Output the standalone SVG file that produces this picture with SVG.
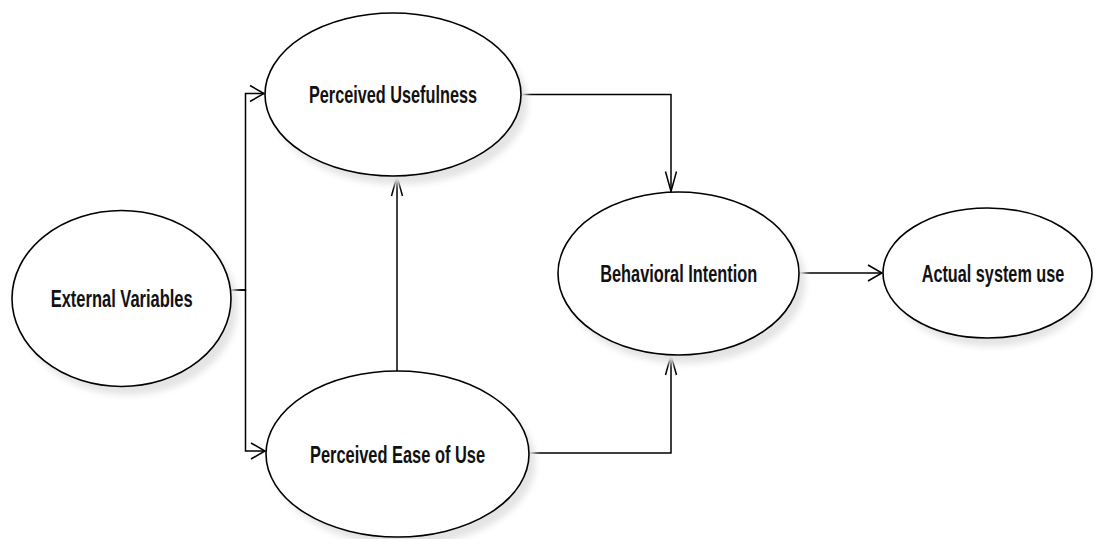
<svg xmlns="http://www.w3.org/2000/svg" width="1095" height="539" viewBox="0 0 1095 539">
  <defs>
    <style>
      .node { fill: #ffffff; stroke: #000000; stroke-width: 1.6; }
      .shadow { fill: #e4e4e4; stroke: none; filter: url(#soft); }
      .label { font-family: "Liberation Sans", Arial, sans-serif; font-weight: bold; font-size: 24px; fill: #111111; text-anchor: middle; }
      .edge { fill: none; stroke: #000000; stroke-width: 1.5; }
      .tip { fill: none; stroke: #000000; stroke-width: 1.5; stroke-linejoin: miter; }
    </style>
    <filter id="soft" x="-20%" y="-20%" width="140%" height="140%">
      <feGaussianBlur stdDeviation="3"/>
    </filter>
    <!-- open arrowheads: horizontal runs are short and wide, vertical runs long and narrow -->
    <marker id="arrowH" markerUnits="userSpaceOnUse" markerWidth="30" markerHeight="30" viewBox="-15 -15 30 30" refX="0" refY="0" orient="auto" overflow="visible">
      <path class="tip" d="M-14,-8 L0,0 L-14,8"/>
    </marker>
    <marker id="arrowV" markerUnits="userSpaceOnUse" markerWidth="30" markerHeight="30" viewBox="-15 -15 30 30" refX="0" refY="0" orient="auto" overflow="visible">
      <path class="tip" d="M-20,-5.5 L0,0 L-20,5.5"/>
    </marker>
  </defs>

  <rect width="1095" height="539" fill="#ffffff"/>

  <g id="connectors">
    <path class="edge" d="M231,290 H245.5 V93.5 H264" marker-end="url(#arrowH)"/>
    <path class="edge" d="M231,290 H245.5 V451 H265" marker-end="url(#arrowH)"/>
    <path class="edge" d="M397,371 V176" marker-end="url(#arrowV)"/>
    <path class="edge" d="M521,94.5 H671 V191.5" marker-end="url(#arrowV)"/>
    <path class="edge" d="M529,453 H671 V355" marker-end="url(#arrowV)"/>
    <path class="edge" d="M799,273 H882" marker-end="url(#arrowH)"/>
  </g>

  <g id="external-variables">
    <ellipse class="shadow" cx="128" cy="307" rx="109.5" ry="88"/>
    <ellipse class="node" cx="121.5" cy="298.5" rx="109.5" ry="88"/>
    <text class="label" x="121.7" y="307.3" textLength="142" lengthAdjust="spacingAndGlyphs">External Variables</text>
  </g>

  <g id="perceived-usefulness">
    <ellipse class="shadow" cx="399.5" cy="103" rx="128" ry="81.5"/>
    <ellipse class="node" cx="393" cy="94.5" rx="128" ry="81.5"/>
    <text class="label" x="393" y="103.3" textLength="168" lengthAdjust="spacingAndGlyphs">Perceived Usefulness</text>
  </g>

  <g id="perceived-ease-of-use">
    <ellipse class="shadow" cx="404" cy="462.5" rx="131.5" ry="83"/>
    <ellipse class="node" cx="397.5" cy="454" rx="131.5" ry="83"/>
    <text class="label" x="397.5" y="463.3" textLength="175" lengthAdjust="spacingAndGlyphs">Perceived Ease of Use</text>
  </g>

  <g id="behavioral-intention">
    <ellipse class="shadow" cx="685" cy="282" rx="120.5" ry="81.5"/>
    <ellipse class="node" cx="678.5" cy="273.5" rx="120.5" ry="81.5"/>
    <text class="label" x="678.7" y="281.7" textLength="157" lengthAdjust="spacingAndGlyphs">Behavioral Intention</text>
  </g>

  <g id="actual-system-use">
    <ellipse class="shadow" cx="991" cy="281.5" rx="100" ry="65"/>
    <ellipse class="node" cx="987.5" cy="273" rx="104.5" ry="65"/>
    <text class="label" x="993" y="282.3" textLength="142.7" lengthAdjust="spacingAndGlyphs">Actual system use</text>
  </g>
</svg>
